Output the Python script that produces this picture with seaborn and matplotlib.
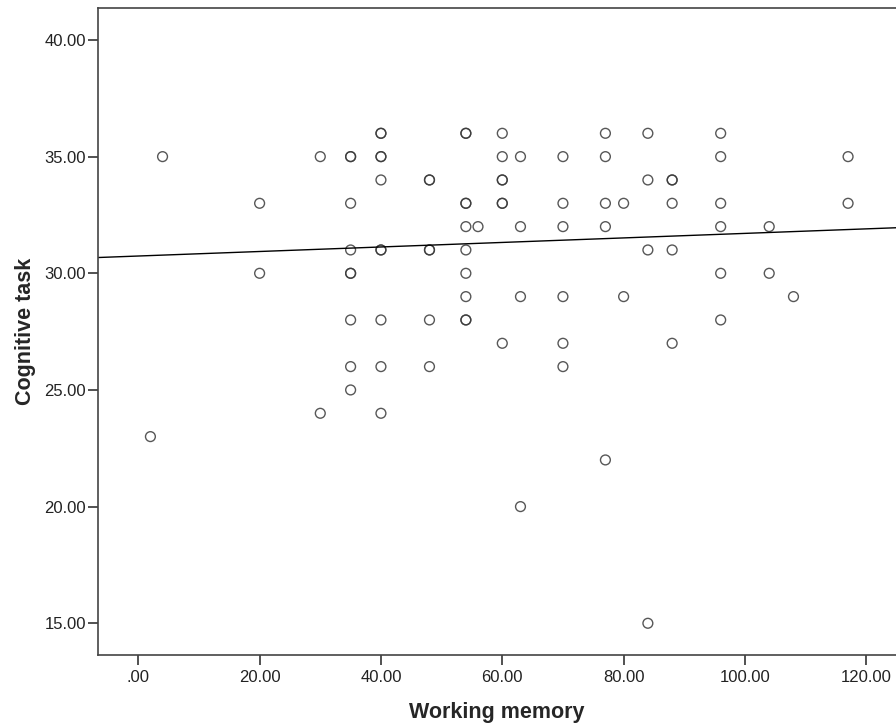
import numpy as np
import pandas as pd
import matplotlib.pyplot as plt
from matplotlib.ticker import FuncFormatter
import seaborn as sns

# -----------------------------
# Data
# -----------------------------
working_memory = [
    2, 4,
    20, 20,
    30, 30,
    35, 35, 35, 35, 35, 35, 35, 35, 35,
    40, 40, 40, 40, 40, 40, 40, 40, 40, 40,
    48, 48, 48, 48, 48, 48,
    54, 54, 54, 54, 54, 54, 54, 54, 54, 54,
    56,
    60, 60, 60, 60, 60, 60, 60,
    63, 63, 63, 63,
    70, 70, 70, 70, 70, 70,
    77, 77, 77, 77, 77,
    80, 80,
    84, 84, 84, 84,
    88, 88, 88, 88, 88,
    96, 96, 96, 96, 96, 96,
    104, 104,
    108,
    117, 117,
]
cognitive_task = [
    23, 35,
    33, 30,
    35, 24,
    35, 35, 33, 31, 30, 30, 28, 26, 25,
    36, 36, 35, 35, 34, 31, 31, 28, 26, 24,
    34, 34, 31, 31, 28, 26,
    36, 36, 33, 33, 32, 31, 30, 29, 28, 28,
    32,
    36, 35, 34, 34, 33, 33, 27,
    35, 32, 29, 20,
    35, 33, 32, 29, 27, 26,
    36, 35, 33, 32, 22,
    33, 29,
    36, 34, 31, 15,
    34, 34, 33, 31, 27,
    36, 35, 33, 32, 30, 28,
    32, 30,
    29,
    35, 33,
]
x_ticks = [0, 20, 40, 60, 80, 100, 120]
y_ticks = [15, 20, 25, 30, 35, 40]

# fit line as shown in the SPSS output (total sample)
fit_intercept = 30.74
fit_slope = 0.0097

df = pd.DataFrame({"Working memory": working_memory,
                   "Cognitive task": cognitive_task})

# -----------------------------
# Style
# -----------------------------
sns.set_style("white")
plt.rcParams["font.family"] = ["Liberation Sans", "DejaVu Sans"]

fig = plt.figure(figsize=(8.96, 7.27), dpi=100)
ax = fig.add_axes([98 / 896, 1 - 655 / 727, 1 - 98 / 896, (655 - 8) / 727])

xlim = (-6.64, 124.9)
ylim = (13.64, 41.37)

sns.scatterplot(data=df, x="Working memory", y="Cognitive task", ax=ax,
                s=50, facecolors="none", edgecolor="#3a3a3a",
                linewidth=1.0, alpha=0.85)

# regression line across the whole x range
line_x = np.array(xlim)
sns.lineplot(x=line_x, y=fit_intercept + fit_slope * line_x, ax=ax,
             color="black", linewidth=1.0)

ax.set_xlim(*xlim)
ax.set_ylim(*ylim)

fmt = FuncFormatter(lambda v, p: f"{v:.2f}"[1:] if abs(v) < 1 else f"{v:.2f}")
ax.set_xticks(x_ticks)
ax.set_yticks(y_ticks)
ax.xaxis.set_major_formatter(fmt)
ax.yaxis.set_major_formatter(fmt)

ax.tick_params(axis="both", direction="out", length=7.5, width=1.2,
               color="#333333", labelsize=12, labelcolor="#222222",
               bottom=True, left=True)
ax.tick_params(axis="x", pad=3.5)
ax.tick_params(axis="y", pad=1)
for side in ["left", "bottom", "top"]:
    ax.spines[side].set_color("#444444")
    ax.spines[side].set_linewidth(1.2)
ax.spines["right"].set_visible(False)

ax.set_xlabel("Working memory", fontsize=15.5, fontweight="bold", labelpad=12)
ax.set_ylabel("Cognitive task", fontsize=15.5, fontweight="bold", labelpad=6)

plt.savefig("out.png", dpi=100)
